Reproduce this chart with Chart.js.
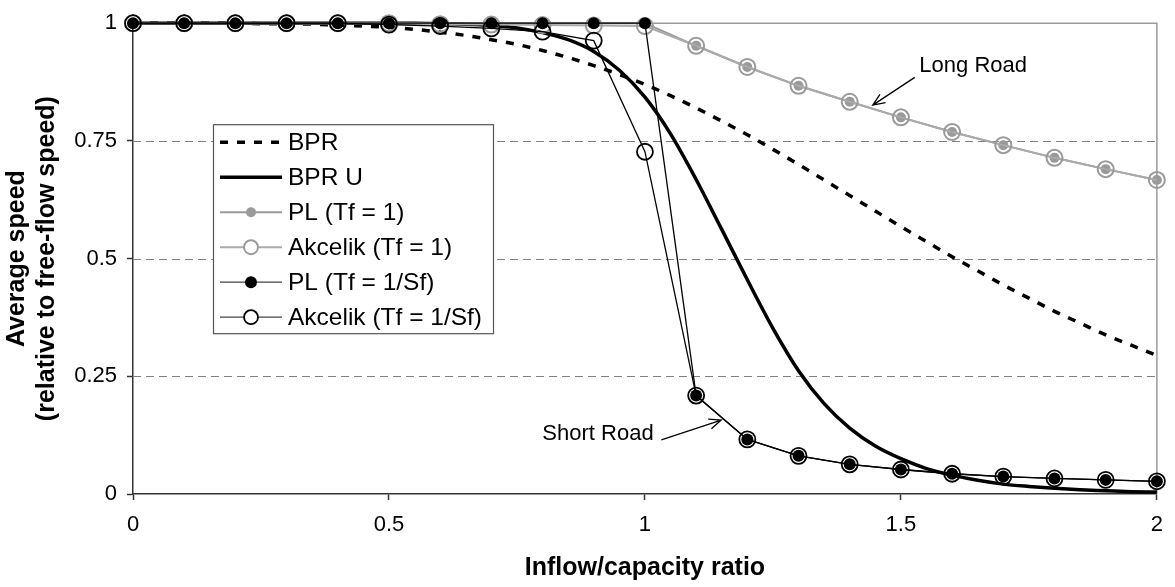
<!DOCTYPE html>
<html>
<head>
<meta charset="utf-8">
<script src="https://cdn.jsdelivr.net/npm/chart.js@4.4.0/dist/chart.umd.min.js"></script>
<style>
  body { margin: 0; background: #fff; }
  #wrap { width: 1175px; height: 587px; }
</style>
</head>
<body>
<div id="wrap"><canvas id="speedChart" width="1175" height="587"></canvas></div>
<script>
// x values of the marker series (step 0.1) and of the smooth curves (step 0.05)
const ratioPoints = [0, 0.1, 0.2, 0.3, 0.4, 0.5, 0.6, 0.7, 0.8, 0.9, 1, 1.1, 1.2, 1.3, 1.4, 1.5, 1.6, 1.7, 1.8, 1.9, 2];
const ratioCurve = [0, 0.05, 0.1, 0.15, 0.2, 0.25, 0.3, 0.35, 0.4, 0.45, 0.5, 0.55, 0.6, 0.65, 0.7, 0.75, 0.8, 0.85, 0.9, 0.95,
  1, 1.05, 1.1, 1.15, 1.2, 1.25, 1.3, 1.35, 1.4, 1.45, 1.5, 1.55, 1.6, 1.65, 1.7, 1.75, 1.8, 1.85, 1.9, 1.95, 2];

// values
const bpr = [1, 1, 1, 1, 1, 0.999, 0.999, 0.998, 0.996, 0.994, 0.991, 0.987, 0.981, 0.974, 0.965, 0.955, 0.942, 0.927, 0.910, 0.891,
  0.870, 0.846, 0.820, 0.792, 0.763, 0.732, 0.700, 0.667, 0.634, 0.601, 0.568, 0.536, 0.504, 0.474, 0.444, 0.416, 0.388, 0.363, 0.338, 0.316, 0.294];
const bprU = [1, 1, 1, 1, 1, 1, 1, 1, 1, 1, 1, 1, 0.999, 0.998, 0.995, 0.990, 0.980, 0.965, 0.940, 0.900,
  0.843, 0.765, 0.668, 0.562, 0.455, 0.352, 0.262, 0.192, 0.140, 0.102, 0.075, 0.054, 0.040, 0.029, 0.021, 0.016, 0.012, 0.009, 0.007, 0.005, 0.004];
const plLong = [1, 1, 1, 1, 1, 1, 1, 1, 1, 1, 1, 0.952, 0.907, 0.867, 0.833, 0.800, 0.769, 0.741, 0.714, 0.690, 0.667];
const akLong = [1, 1, 1, 1, 1, 1, 0.998, 0.997, 0.996, 0.995, 0.994, 0.952, 0.907, 0.867, 0.833, 0.800, 0.769, 0.741, 0.714, 0.690, 0.667];
const plShort = [1, 1, 1, 1, 1, 1, 1, 1, 1, 1, 1, 0.209, 0.116, 0.081, 0.063, 0.052, 0.043, 0.037, 0.033, 0.030, 0.027];
const akShort = [1, 1, 1, 1, 1, 0.997, 0.994, 0.989, 0.982, 0.963, 0.727, 0.209, 0.116, 0.081, 0.063, 0.052, 0.043, 0.037, 0.033, 0.030, 0.027];

const seriesNames = ["BPR", "BPR U", "PL (Tf = 1)", "Akcelik (Tf = 1)", "PL (Tf = 1/Sf)", "Akcelik (Tf = 1/Sf)"];
const xTicks = [0, 0.5, 1, 1.5, 2];
const yTicks = [0, 0.25, 0.5, 0.75, 1];
const gridValues = [0.25, 0.5, 0.75];

const FONT = "'Liberation Sans', Arial, sans-serif";
const GREY = "#9a9a9a";

const pts = (xs, ys) => xs.map((x, i) => ({ x: x, y: ys[i] }));

// dashed grid lines plus the grey frame on top and right
const frame = {
  id: "frame",
  beforeDatasetsDraw(chart) {
    const { ctx, chartArea: a, scales: { y } } = chart;
    ctx.save();
    ctx.strokeStyle = "#808080";
    ctx.lineWidth = 1;
    ctx.setLineDash([8, 5]);
    gridValues.forEach(v => {
      const py = Math.round(y.getPixelForValue(v)) + 0.5;
      ctx.beginPath();
      ctx.moveTo(a.left, py);
      ctx.lineTo(a.right, py);
      ctx.stroke();
    });
    ctx.setLineDash([]);
    ctx.strokeStyle = GREY;
    ctx.lineWidth = 1.5;
    ctx.beginPath();
    ctx.moveTo(a.left, a.top);
    ctx.lineTo(a.right, a.top);
    ctx.lineTo(a.right, a.bottom);
    ctx.stroke();
    ctx.restore();
  }
};

// "Long Road" / "Short Road" labels with arrows, placed in data units
const notes = [
  { text: "Long Road", tx: 1.536, ty: 0.91, align: "left", from: [1.527, 0.885], to: [1.445, 0.826] },
  { text: "Short Road", tx: 1.017, ty: 0.128, align: "right", from: [1.032, 0.115], to: [1.149, 0.157] }
];

const annotate = {
  id: "annotate",
  afterDatasetsDraw(chart) {
    const { ctx, scales: { x, y } } = chart;
    ctx.save();
    ctx.fillStyle = "#000";
    ctx.strokeStyle = "#000";
    ctx.lineWidth = 1.3;
    ctx.font = "22px " + FONT;
    ctx.textBaseline = "middle";
    notes.forEach(n => {
      ctx.textAlign = n.align;
      ctx.fillText(n.text, x.getPixelForValue(n.tx), y.getPixelForValue(n.ty));
      const x1 = x.getPixelForValue(n.from[0]), y1 = y.getPixelForValue(n.from[1]);
      const x2 = x.getPixelForValue(n.to[0]), y2 = y.getPixelForValue(n.to[1]);
      const ang = Math.atan2(y2 - y1, x2 - x1);
      ctx.beginPath();
      ctx.moveTo(x1, y1);
      ctx.lineTo(x2, y2);
      ctx.moveTo(x2 - 13 * Math.cos(ang - 0.4), y2 - 13 * Math.sin(ang - 0.4));
      ctx.lineTo(x2, y2);
      ctx.lineTo(x2 - 13 * Math.cos(ang + 0.4), y2 - 13 * Math.sin(ang + 0.4));
      ctx.stroke();
    });
    ctx.restore();
  }
};

// boxed legend inside the plot, like the original
const boxLegend = {
  id: "boxLegend",
  afterDraw(chart) {
    const { ctx, chartArea: a } = chart;
    const bx = a.left + 80, by = a.top + 101, bw = 280, bh = 209;
    ctx.save();
    ctx.fillStyle = "#fff";
    ctx.fillRect(bx, by, bw, bh);
    ctx.strokeStyle = "#555";
    ctx.lineWidth = 1.2;
    ctx.strokeRect(bx + 0.5, by + 0.5, bw, bh);
    ctx.font = "24.5px " + FONT;
    ctx.textBaseline = "middle";
    ctx.textAlign = "left";
    chart.data.datasets.forEach((ds, i) => {
      const cy = by + 18 + i * 35;
      const lx1 = bx + 7, lx2 = bx + 69, mx = (lx1 + lx2) / 2;
      ctx.strokeStyle = ds.legendLine || ds.borderColor;
      ctx.lineWidth = ds.borderWidth;
      ctx.setLineDash(ds.borderDash || []);
      ctx.beginPath();
      ctx.moveTo(lx1, cy);
      ctx.lineTo(lx2, cy);
      ctx.stroke();
      ctx.setLineDash([]);
      if (ds.pointRadius > 0) {
        ctx.beginPath();
        ctx.arc(mx, cy, ds.pointRadius > 6 ? 7 : ds.pointRadius, 0, Math.PI * 2);
        ctx.fillStyle = ds.pointBackgroundColor === "transparent" ? "#fff" : ds.pointBackgroundColor;
        ctx.fill();
        if (ds.pointBorderWidth > 0) {
          ctx.lineWidth = ds.pointBorderWidth;
          ctx.strokeStyle = ds.pointBorderColor;
          ctx.stroke();
        }
      }
      ctx.fillStyle = "#000";
      ctx.fillText(ds.label, bx + 75, cy + 1);
    });
    ctx.restore();
  }
};

const ctx = document.getElementById("speedChart").getContext("2d");
new Chart(ctx, {
  type: "line",
  data: {
    datasets: [
      {
        label: seriesNames[0], data: pts(ratioCurve, bpr), order: 5,
        borderColor: "#000", borderWidth: 3.5, borderDash: [8, 9], pointRadius: 0, cubicInterpolationMode: "monotone"
      },
      {
        label: seriesNames[1], data: pts(ratioCurve, bprU), order: 4,
        borderColor: "#000", borderWidth: 3.5, pointRadius: 0, cubicInterpolationMode: "monotone"
      },
      {
        label: seriesNames[2], data: pts(ratioPoints, plLong), order: 3,
        borderColor: GREY, borderWidth: 2, pointRadius: 5, pointBackgroundColor: GREY, pointBorderColor: GREY, pointBorderWidth: 0
      },
      {
        label: seriesNames[3], data: pts(ratioPoints, akLong), order: 2,
        borderColor: "#aaaaaa", borderWidth: 2, pointRadius: 8, pointBackgroundColor: "transparent", pointBorderColor: GREY, pointBorderWidth: 2
      },
      {
        label: seriesNames[4], data: pts(ratioPoints, plShort), order: 1, legendLine: "#444",
        borderColor: "#000", borderWidth: 1.3, pointRadius: 6, pointBackgroundColor: "#000", pointBorderColor: "#000", pointBorderWidth: 0
      },
      {
        label: seriesNames[5], data: pts(ratioPoints, akShort), order: 0, legendLine: "#444",
        borderColor: "#000", borderWidth: 1.3, pointRadius: 8, pointBackgroundColor: "transparent", pointBorderColor: "#000", pointBorderWidth: 1.8
      }
    ]
  },
  options: {
    responsive: false,
    animation: false,
    clip: false,
    layout: { padding: { top: 16, right: 15, left: 0, bottom: 0 } },
    plugins: { legend: { display: false }, tooltip: { enabled: false } },
    scales: {
      x: {
        type: "linear", min: 0, max: 2,
        afterFit: s => { s.height = 93; },
        afterBuildTicks: s => { s.ticks = xTicks.map(v => ({ value: v })); },
        ticks: { color: "#000", padding: 12, font: { family: FONT, size: 22 }, callback: v => String(v), maxRotation: 0 },
        grid: { drawOnChartArea: false, drawTicks: true, tickLength: 6, tickColor: "#333", tickWidth: 1.5 },
        border: { color: "#333", width: 1.5 },
        title: { display: true, text: "Inflow/capacity ratio", color: "#000", padding: { top: 0, bottom: 4 },
          font: { family: FONT, size: 25, weight: "bold", lineHeight: 1.2 } }
      },
      y: {
        min: 0, max: 1,
        afterFit: s => { s.width = 133; },
        afterBuildTicks: s => { s.ticks = yTicks.map(v => ({ value: v })); },
        ticks: { color: "#000", padding: 10, font: { family: FONT, size: 22 }, callback: v => String(v) },
        grid: { drawOnChartArea: false, drawTicks: true, tickLength: 6, tickColor: "#333", tickWidth: 1.5 },
        border: { color: "#333", width: 1.5 },
        title: { display: true, text: ["Average speed", "(relative to free-flow speed)"], color: "#000",
          padding: { top: 2, bottom: 0 }, font: { family: FONT, size: 25, weight: "bold", lineHeight: 1.2 } }
      }
    }
  },
  plugins: [frame, annotate, boxLegend]
});
</script>
</body>
</html>
